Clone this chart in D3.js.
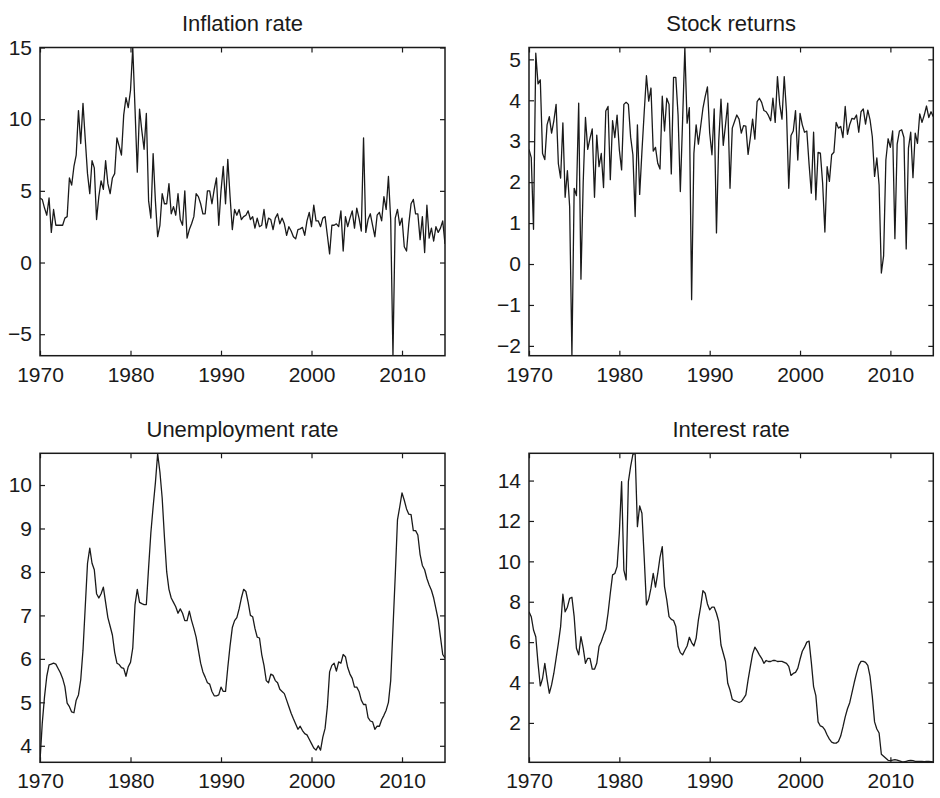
<!DOCTYPE html>
<html>
<head>
<meta charset="utf-8">
<script src="https://cdn.jsdelivr.net/npm/d3@7"></script>
<style>
  body { margin: 0; background: #fff; }
  svg { display: block; }
  .line { fill: none; stroke: #1a1a1a; stroke-width: 1.3; stroke-linejoin: round; }
</style>
</head>
<body>
<div id="chart"></div>
<script>
// quarterly data, 1970Q1 .. 2014Q4
const startYear = 1970;

const inflation = [
  4.5, 4.4, 3.8, 3.3, 4.5, 2.1, 3.7, 2.6,
  2.6, 2.6, 2.6, 3.1, 3.2, 5.9, 5.4, 6.7,
  7.5, 10.6, 8.3, 11.1, 8.6, 6.2, 4.8, 7.1,
  6.6, 3.0, 4.6, 5.7, 5.1, 7.1, 5.5, 4.8,
  5.9, 6.2, 8.7, 8.1, 7.5, 10.3, 11.5, 10.8,
  12.0, 15.0, 10.7, 6.3, 10.7, 9.2, 7.9, 10.4,
  4.3, 3.1, 7.6, 4.3, 1.8, 2.6, 4.8, 4.1,
  4.1, 5.5, 3.4, 3.9, 3.3, 4.8, 3.0, 2.6,
  5.0, 1.7, 2.3, 2.7, 3.2, 4.8, 4.6, 4.1,
  3.4, 3.4, 5.0, 5.0, 4.1, 5.1, 5.9, 2.6,
  5.0, 6.7, 4.1, 7.2, 4.6, 2.3, 3.7, 3.3,
  3.7, 3.0, 3.2, 3.3, 3.6, 3.0, 3.2, 2.4,
  3.1, 2.5, 2.6, 3.7, 2.4, 3.1, 3.0, 2.3,
  3.1, 3.4, 2.7, 3.1, 2.7, 1.9, 2.5, 2.2,
  1.8, 1.65, 2.3, 2.35, 2.45, 1.9, 2.9, 3.5,
  2.5, 4.0, 2.9, 2.9, 2.5, 3.1, 3.2, 1.9,
  0.6, 2.6, 2.6, 2.7, 2.5, 3.6, 0.8, 3.2,
  2.5, 3.1, 3.6, 2.4, 3.8, 3.1, 2.2, 8.7,
  2.1, 3.0, 3.4, 2.6, 1.8, 3.3, 3.5, 2.9,
  4.6, 3.7, 6.0, 3.0, -6.5, 3.1, 3.7, 2.6,
  3.1, 1.1, 0.8, 2.7, 4.1, 4.4, 3.4, 3.4,
  1.6, 3.2, 0.7, 4.0, 1.7, 2.4, 1.5, 2.5,
  2.1, 2.4, 2.9, 1.3
];

const stockReturns = [
  2.8, 2.6, 0.85, 5.15, 4.4, 4.5, 2.7, 2.55,
  3.4, 3.6, 3.2, 3.5, 3.9, 2.45, 2.1, 3.45,
  1.63, 2.28, 1.4, -2.24, 1.85, 1.67, 3.93, -0.37,
  2.0, 3.58, 2.8, 3.07, 3.3, 1.63, 3.15, 2.38,
  2.7, 1.87, 3.74, 3.85, 2.06, 3.5, 3.09, 3.64,
  2.79, 2.3, 3.9, 3.95, 3.9, 3.1, 2.67, 1.16,
  3.4, 1.7, 2.75, 3.7, 4.6, 3.98, 4.3, 2.76,
  2.85, 2.46, 2.32, 4.1, 3.25, 4.05, 3.9, 2.2,
  4.56, 4.56, 3.64, 1.77, 3.5, 5.29, 3.44, 3.82,
  -0.87, 2.7, 3.4, 2.93, 3.36, 3.8, 4.09, 4.33,
  3.2, 2.67, 3.79, 0.76, 3.0, 4.03, 2.9, 3.4,
  3.93, 1.85, 3.32, 3.48, 3.64, 3.54, 3.2, 3.38,
  3.37, 2.68, 3.09, 3.54, 3.05, 3.97, 4.05, 3.95,
  3.75, 3.72, 3.63, 3.5, 4.05, 3.46, 4.58, 3.9,
  3.54, 4.58, 3.72, 1.85, 3.14, 3.25, 3.75, 2.54,
  3.68, 3.4, 3.22, 3.25, 2.44, 1.73, 3.22, 1.57,
  2.73, 2.71, 1.98, 0.78, 2.38, 2.02, 2.67, 2.73,
  3.46, 3.32, 3.36, 3.09, 3.85, 3.17, 3.41, 3.56,
  3.54, 3.64, 3.22, 3.72, 3.79, 3.42, 3.76, 3.52,
  3.11, 2.14, 2.59, 1.93, -0.22, 0.2, 2.54, 3.06,
  2.85, 3.25, 0.62, 2.93, 3.25, 3.28, 3.09, 0.37,
  2.83, 3.22, 2.11, 3.2, 2.95, 3.67, 3.46, 3.64,
  3.86, 3.58, 3.72, 3.6
];

const unemployment = [
  3.65, 4.52, 5.13, 5.6, 5.86, 5.88, 5.9, 5.88,
  5.78, 5.68, 5.55, 5.36, 4.98, 4.9, 4.78, 4.76,
  5.05, 5.17, 5.52, 6.2, 7.2, 8.2, 8.55, 8.2,
  8.05, 7.5, 7.4, 7.5, 7.65, 7.3, 6.95, 6.75,
  6.55, 6.15, 5.9, 5.87, 5.8, 5.78, 5.6, 5.82,
  5.92, 6.25, 7.25, 7.6, 7.3, 7.27, 7.25, 7.25,
  8.1, 8.9, 9.5, 10.05, 10.72, 10.3, 9.7, 8.8,
  8.0, 7.6, 7.4, 7.3, 7.2, 7.05, 7.15, 7.05,
  6.88, 6.88, 7.1, 6.88, 6.7, 6.5, 6.2, 5.9,
  5.7, 5.58, 5.45, 5.42, 5.25, 5.15, 5.15, 5.17,
  5.35, 5.25, 5.25, 5.8, 6.3, 6.72, 6.88, 6.95,
  7.15, 7.4, 7.6, 7.55, 7.3, 7.0, 6.97, 6.7,
  6.5, 6.48, 6.1, 5.85, 5.5, 5.45, 5.65, 5.62,
  5.5, 5.45, 5.3, 5.25, 5.2, 5.05, 4.9, 4.75,
  4.62, 4.5, 4.38, 4.45, 4.35, 4.28, 4.25, 4.15,
  4.05, 3.95, 3.9, 4.0, 3.9, 4.2, 4.4, 4.9,
  5.7, 5.85, 5.9, 5.72, 5.93, 5.9, 6.1, 6.05,
  5.8, 5.65, 5.55, 5.35, 5.35, 5.25, 5.05, 4.95,
  4.95, 4.65, 4.57, 4.55, 4.38, 4.45, 4.45, 4.6,
  4.7, 4.82, 5.0, 5.5, 6.7, 7.9, 9.2, 9.5,
  9.82, 9.65, 9.45, 9.33, 9.32, 8.95, 8.95, 8.85,
  8.4, 8.15, 8.05, 7.85, 7.7, 7.58, 7.4, 7.15,
  6.9, 6.5, 6.1, 6.02
];

const interestRate = [
  7.5, 7.26, 6.6, 6.27, 4.95, 3.83, 4.2, 4.95,
  4.16, 3.47, 3.88, 4.46, 5.2, 5.94, 6.77, 8.37,
  7.5, 7.73, 8.17, 8.22, 7.26, 5.7, 5.37, 6.27,
  5.7, 4.95, 5.2, 5.2, 4.66, 4.66, 4.95, 5.78,
  6.03, 6.36, 6.64, 7.43, 8.42, 9.33, 9.4, 9.74,
  11.4, 13.95, 9.57, 9.08, 13.95, 14.7, 15.3, 15.35,
  11.72, 12.74, 12.38, 10.2, 7.84, 8.12, 8.67, 9.4,
  8.72, 9.4, 10.2, 10.73, 8.75, 8.09, 7.26, 7.13,
  7.07, 6.77, 5.78, 5.48, 5.37, 5.6, 5.81, 6.24,
  5.98, 5.81, 6.19, 7.1, 7.76, 8.55, 8.42, 7.89,
  7.6, 7.73, 7.73, 7.43, 7.02, 5.86, 5.45, 5.04,
  3.96, 3.63, 3.17, 3.1, 3.06, 3.01, 3.06, 3.22,
  3.39, 4.13, 4.79, 5.42, 5.75, 5.58, 5.37, 5.2,
  4.95, 5.09, 5.04, 5.04, 5.09, 5.09, 5.04, 5.05,
  5.05, 5.0, 4.95, 4.8, 4.35, 4.45, 4.5, 4.7,
  5.15, 5.55, 5.75, 6.0, 6.05, 5.0, 3.8, 3.35,
  2.05, 1.85, 1.8, 1.65, 1.4, 1.2, 1.05, 1.0,
  1.0, 1.08, 1.35, 1.8, 2.3, 2.7, 3.0, 3.5,
  4.0, 4.45, 4.85, 5.05, 5.05, 5.0, 4.85, 4.3,
  3.3, 2.05, 1.7, 1.5, 0.45, 0.35, 0.25, 0.15,
  0.13, 0.16, 0.18, 0.16, 0.12, 0.08, 0.07, 0.1,
  0.13, 0.14, 0.13, 0.1, 0.09, 0.1, 0.09, 0.08,
  0.1, 0.09, 0.08, 0.07
];

const titles = ['Inflation rate', 'Stock returns', 'Unemployment rate', 'Interest rate'];
const xTicks = [1970, 1980, 1990, 2000, 2010];
const xLimits = [1970, 2014.75];
const yTicksInflation = [-5, 0, 5, 10, 15];
const yTicksStock = [-2, -1, 0, 1, 2, 3, 4, 5];
const yTicksUnemployment = [4, 5, 6, 7, 8, 9, 10];
const yTicksInterest = [2, 4, 6, 8, 10, 12, 14];
const yLimitsInflation = [-6.5, 15];
const yLimitsStock = [-2.24, 5.29];
const yLimitsUnemployment = [3.62, 10.73];
const yLimitsInterest = [0.05, 15.35];

// SVG setup
const width = 940;
const height = 798;
const fontFamily = '"Liberation Sans", Arial, Helvetica, sans-serif';
const ink = '#1a1a1a';

const svg = d3.select('#chart')
  .append('svg')
  .attr('width', width)
  .attr('height', height)
  .attr('viewBox', `0 0 ${width} ${height}`);

// axes boxes, MATLAB subplot(2,2,k) style
const panels = [
  { series: inflation,    yTicks: yTicksInflation,    yLim: yLimitsInflation,    left: 40,  right: 445,   top: 47.5,  bottom: 355.7 },
  { series: stockReturns, yTicks: yTicksStock,        yLim: yLimitsStock,        left: 529, right: 933.3, top: 47.5,  bottom: 355.7 },
  { series: unemployment, yTicks: yTicksUnemployment, yLim: yLimitsUnemployment, left: 40,  right: 445,   top: 453.3, bottom: 762.3 },
  { series: interestRate, yTicks: yTicksInterest,     yLim: yLimitsInterest,     left: 529, right: 933.3, top: 453.3, bottom: 762.3 }
];

const fmt = d => String(d).replace('-', '\u2212');

panels.forEach((p, k) => {
  const data = p.series.map((v, i) => ({ date: startYear + i / 4, value: v }));

  const x = d3.scaleLinear().domain(xLimits).range([p.left, p.right]);
  const y = d3.scaleLinear().domain(p.yLim).range([p.bottom, p.top]);

  const g = svg.append('g');

  // clip the line to the axes box
  g.append('clipPath')
    .attr('id', 'clip' + k)
    .append('rect')
    .attr('x', p.left)
    .attr('y', p.top)
    .attr('width', p.right - p.left)
    .attr('height', p.bottom - p.top);

  const line = d3.line()
    .x(d => x(d.date))
    .y(d => y(d.value));

  g.append('path')
    .datum(data)
    .attr('class', 'line')
    .attr('clip-path', `url(#clip${k})`)
    .attr('d', line);

  // ticks point inwards on all four sides
  const tick = 5;
  const bottomAxis = g.append('g')
    .attr('transform', `translate(0,${p.bottom})`)
    .call(d3.axisBottom(x).tickValues(xTicks).tickSizeInner(-tick).tickSizeOuter(0).tickPadding(11).tickFormat(d3.format('d')));
  const topAxis = g.append('g')
    .attr('transform', `translate(0,${p.top})`)
    .call(d3.axisTop(x).tickValues(xTicks).tickSizeInner(-tick).tickSizeOuter(0).tickFormat(''));
  const leftAxis = g.append('g')
    .attr('transform', `translate(${p.left},0)`)
    .call(d3.axisLeft(y).tickValues(p.yTicks).tickSizeInner(-tick).tickSizeOuter(0).tickPadding(8).tickFormat(fmt));
  const rightAxis = g.append('g')
    .attr('transform', `translate(${p.right},0)`)
    .call(d3.axisRight(y).tickValues(p.yTicks).tickSizeInner(-tick).tickSizeOuter(0).tickFormat(''));

  [bottomAxis, topAxis, leftAxis, rightAxis].forEach(a => {
    a.select('.domain').remove();
    a.selectAll('line').attr('stroke', ink).attr('stroke-width', 1.2);
    a.selectAll('text')
      .attr('fill', ink)
      .style('font-family', fontFamily)
      .style('font-size', '21px');
  });

  // box
  g.append('rect')
    .attr('x', p.left)
    .attr('y', p.top)
    .attr('width', p.right - p.left)
    .attr('height', p.bottom - p.top)
    .attr('fill', 'none')
    .attr('stroke', ink)
    .attr('stroke-width', 1.5);

  // title
  g.append('text')
    .attr('x', (p.left + p.right) / 2)
    .attr('y', p.top - 16.5)
    .attr('text-anchor', 'middle')
    .attr('fill', ink)
    .style('font-family', fontFamily)
    .style('font-size', '22px')
    .text(titles[k]);
});
</script>
</body>
</html>
